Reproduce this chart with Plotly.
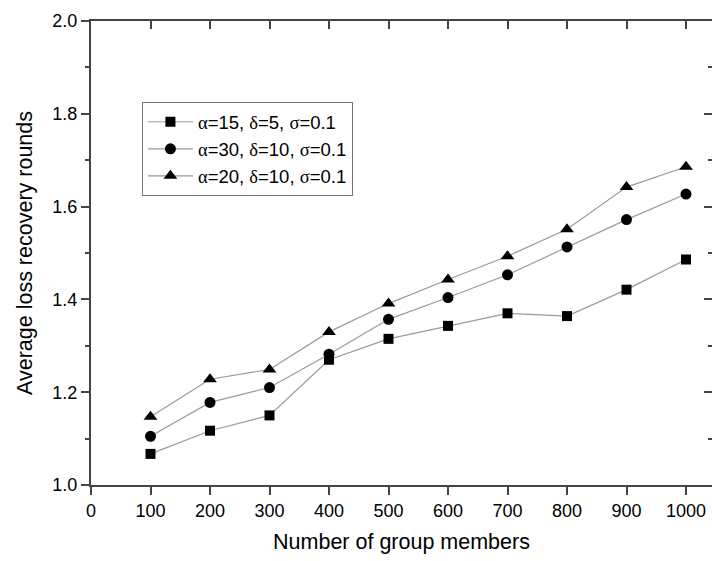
import plotly.graph_objects as go

members = [100, 200, 300, 400, 500, 600, 700, 800, 900, 1000]
series_a = [1.067, 1.117, 1.150, 1.270, 1.315, 1.343, 1.370, 1.364, 1.421, 1.486]
series_b = [1.105, 1.178, 1.210, 1.282, 1.357, 1.404, 1.453, 1.513, 1.572, 1.627]
series_c = [1.147, 1.228, 1.249, 1.330, 1.391, 1.443, 1.493, 1.551, 1.642, 1.686]

G = "<span style='font-family:\"Liberation Serif\"'>%s</span>"
names = [
    G % "α" + "=15, " + G % "δ" + "=5, " + G % "σ" + "=0.1",
    G % "α" + "=30, " + G % "δ" + "=10, " + G % "σ" + "=0.1",
    G % "α" + "=20, " + G % "δ" + "=10, " + G % "σ" + "=0.1",
]
symbols = ["square", "circle", "triangle-up"]
sizes = [10, 11, 12]
xticks = [0, 100, 200, 300, 400, 500, 600, 700, 800, 900, 1000]
yticks = [1.0, 1.2, 1.4, 1.6, 1.8, 2.0]

fig = go.Figure()
for ys, nm, sym, sz in zip([series_a, series_b, series_c], names, symbols, sizes):
    fig.add_trace(go.Scatter(
        x=members, y=ys, name=nm, mode="lines+markers",
        line=dict(color="#9a9a9a", width=1.2),
        marker=dict(symbol=sym, size=sz, color="black", line=dict(width=0)),
    ))
# helper trace for frame axes
fig.add_trace(go.Scatter(x=[None], y=[None], xaxis="x2", yaxis="y2",
                         showlegend=False, hoverinfo="skip"))

XR = [0, 1043.7]
YR = [1.0, 2.0]
AX = "#444444"
fig.update_layout(
    width=712, height=561,
    margin=dict(l=91, r=0, t=21, b=76),
    paper_bgcolor="white", plot_bgcolor="white",
    font=dict(family="Liberation Sans, Arial, sans-serif", color="black"),
    showlegend=True,
    legend=dict(x=0.082, y=0.825, xanchor="left", yanchor="top",
                bordercolor="#777777", borderwidth=1, bgcolor="white",
                font=dict(size=18.5), tracegroupgap=0, itemwidth=45),
    xaxis=dict(range=XR, tickvals=xticks, ticktext=[str(v) for v in xticks],
               showline=True, linecolor=AX, linewidth=2, ticks="outside",
               ticklen=8, tickwidth=2, tickcolor=AX, showgrid=False,
               zeroline=False, tickfont=dict(size=18),
               title=dict(text="Number of group members", font=dict(size=21.5),
                          standoff=14)),
    yaxis=dict(range=YR, tickvals=yticks, tickformat=".1f",
               showline=True, linecolor=AX, linewidth=2, ticks="outside",
               ticklen=8, tickwidth=2, tickcolor=AX, showgrid=False,
               zeroline=False, tickfont=dict(size=18),
               minor=dict(dtick=0.1, ticks="outside", ticklen=4, tickwidth=2,
                          tickcolor=AX, showgrid=False),
               title=dict(text="Average loss recovery rounds", font=dict(size=21.5),
                          standoff=14)),
    xaxis2=dict(range=XR, overlaying="x", side="top", anchor="y",
                tickvals=xticks, showticklabels=False, showline=True,
                linecolor=AX, linewidth=2, ticks="inside", ticklen=8,
                tickwidth=2, tickcolor=AX, showgrid=False, zeroline=False),
    yaxis2=dict(range=YR, overlaying="y", side="right", anchor="x",
                tickvals=yticks, showticklabels=False, showline=False,
                ticks="inside", ticklen=8, tickwidth=2, tickcolor=AX,
                showgrid=False, zeroline=False,
                minor=dict(dtick=0.1, ticks="inside", ticklen=4, tickwidth=2,
                           tickcolor=AX, showgrid=False)),
)
fig.write_html("out.html", config={"displayModeBar": False},
               post_script="document.body.style.margin='0';"
                           "document.body.style.overflow='hidden';")
